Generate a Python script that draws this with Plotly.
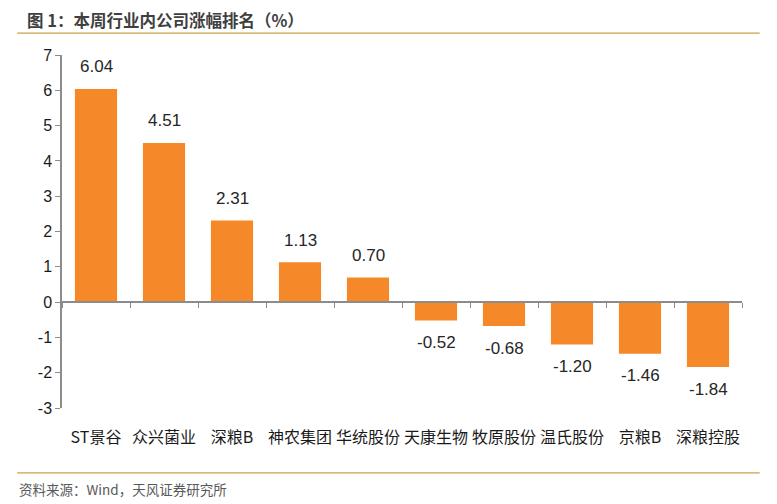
import plotly.graph_objects as go

categories = ["ST景谷", "众兴菌业", "深粮B", "神农集团", "华统股份", "天康生物", "牧原股份", "温氏股份", "京粮B", "深粮控股"]
values = [6.04, 4.51, 2.31, 1.13, 0.70, -0.52, -0.68, -1.20, -1.46, -1.84]
y_ticks = [-3, -2, -1, 0, 1, 2, 3, 4, 5, 6, 7]
y_tick_labels = ["-3", "-2", "-1", "0", "1", "2", "3", "4", "5", "6", "7"]

title_text = "图 1：本周行业内公司涨幅排名（%）"
source_text = "资料来源：Wind，天风证券研究所"

cjk = "Noto Sans CJK SC"
latin = "Liberation Sans, Arial"

fig = go.Figure()
fig.add_trace(go.Bar(x=categories, y=values, marker=dict(color="#F5892A", line=dict(width=0)),
                     hoverinfo="skip", showlegend=False))
fig.add_trace(go.Scatter(x=categories, y=values, mode="none", xaxis="x2", showlegend=False, hoverinfo="skip"))

annotations = []
for c, v in zip(categories, values):
    annotations.append(dict(x=c, y=v, xref="x", yref="y", text=f"{v:.2f}", showarrow=False,
                            yanchor="middle", yshift=22 if v >= 0 else -22,
                            font=dict(family=latin, size=17, color="#262626")))

annotations.append(dict(x=-0.054, y=1.1, xref="paper", yref="paper", xanchor="left", yanchor="middle",
                        text="<b>" + title_text + "</b>", showarrow=False,
                        font=dict(family=cjk, size=16.5, color="#3f3f3f")))
annotations.append(dict(x=-0.066, y=-0.229, xref="paper", yref="paper", xanchor="left", yanchor="middle",
                        text=source_text, showarrow=False,
                        font=dict(family=cjk, size=13.5, color="#595959")))

shapes = [
    dict(type="line", xref="paper", yref="paper", x0=-0.066, x1=1.026, y0=1.062, y1=1.062,
         line=dict(color="#C9A04A", width=1.2)),
    dict(type="line", xref="paper", yref="paper", x0=-0.066, x1=1.026, y0=-0.184, y1=-0.184,
         line=dict(color="#C9A04A", width=1.2)),
]

fig.update_layout(
    width=761, height=496,
    margin=dict(l=54, r=27, t=47, b=96),
    paper_bgcolor="white", plot_bgcolor="white",
    bargap=0.38,
    xaxis=dict(type="category", showline=False, ticks="", showgrid=False, zeroline=False,
               ticklabelstandoff=18,
               tickfont=dict(family=cjk, size=16, color="#1a1a1a")),
    xaxis2=dict(type="category", overlaying="x", matches="x", anchor="free", position=0.3,
                showline=True, linecolor="#8c8c8c", linewidth=1.5, ticks="outside", ticklen=5,
                tickcolor="#8c8c8c", tickson="boundaries", showticklabels=False, showgrid=False,
                zeroline=False, side="bottom"),
    yaxis=dict(range=[-3, 7], tickvals=y_ticks, ticktext=y_tick_labels, showline=True,
               linecolor="#8c8c8c", linewidth=1.5,
               ticks="outside", ticklen=5, tickcolor="#8c8c8c", showgrid=False, zeroline=False,
               tickfont=dict(family=latin, size=16, color="#1a1a1a")),
    annotations=annotations,
    shapes=shapes,
)

fig.write_html("out.html")
